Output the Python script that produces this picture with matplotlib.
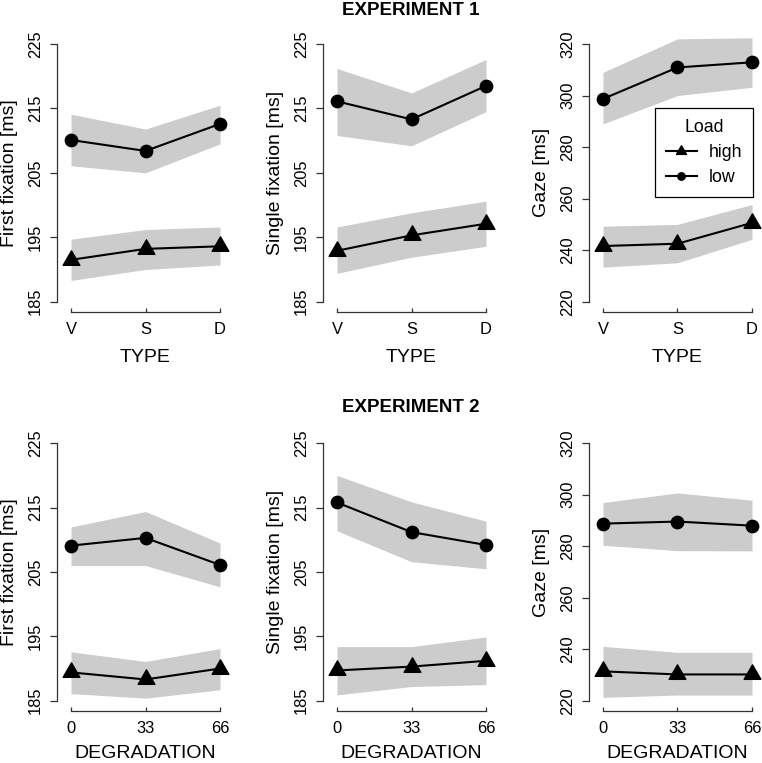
import numpy as np
import matplotlib
matplotlib.use("Agg")
import matplotlib.pyplot as plt
from matplotlib.lines import Line2D
from matplotlib.path import Path

plt.rcParams['font.family'] = ['Liberation Sans', 'DejaVu Sans']

# ---------------- data ----------------
type_labels = ["V", "S", "D"]
type_pos = [1, 2, 3]
degradation = [0, 33, 66]

# Experiment 1 (TYPE)
e1_ff_low = [210.1, 208.4, 212.6]
e1_ff_low_lo = [206.1, 205.0, 209.5]
e1_ff_low_hi = [214.1, 211.8, 215.5]
e1_ff_high = [191.5, 193.2, 193.6]
e1_ff_high_lo = [188.3, 190.0, 190.7]
e1_ff_high_hi = [194.7, 196.2, 196.6]

e1_sf_low = [216.1, 213.3, 218.5]
e1_sf_low_lo = [210.8, 209.2, 214.5]
e1_sf_low_hi = [221.2, 217.4, 222.6]
e1_sf_high = [192.9, 195.3, 197.1]
e1_sf_high_lo = [189.4, 191.9, 193.6]
e1_sf_high_hi = [196.6, 198.8, 200.6]

e1_gz_low = [298.7, 310.9, 312.9]
e1_gz_low_lo = [289.0, 300.0, 303.2]
e1_gz_low_hi = [309.0, 322.0, 322.4]
e1_gz_high = [241.6, 242.5, 250.6]
e1_gz_high_lo = [233.4, 235.1, 244.2]
e1_gz_high_hi = [249.3, 250.0, 257.7]

# Experiment 2 (DEGRADATION)
e2_ff_low = [209.1, 210.3, 206.1]
e2_ff_low_lo = [206.0, 206.0, 202.7]
e2_ff_low_hi = [212.0, 214.4, 209.5]
e2_ff_high = [189.4, 188.3, 190.0]
e2_ff_high_lo = [186.1, 185.4, 186.7]
e2_ff_high_hi = [192.6, 191.1, 193.1]

e2_sf_low = [215.8, 211.2, 209.2]
e2_sf_low_lo = [211.4, 206.6, 205.5]
e2_sf_low_hi = [220.0, 215.9, 212.9]
e2_sf_high = [189.7, 190.3, 191.2]
e2_sf_high_lo = [185.9, 187.2, 187.5]
e2_sf_high_hi = [193.4, 193.4, 194.9]

e2_gz_low = [288.8, 289.6, 288.0]
e2_gz_low_lo = [280.4, 278.3, 278.2]
e2_gz_low_hi = [297.0, 300.7, 297.9]
e2_gz_high = [231.4, 230.2, 230.2]
e2_gz_high_lo = [221.3, 222.2, 222.2]
e2_gz_high_hi = [241.1, 238.8, 238.8]

fix_ticks = [185, 195, 205, 215, 225]
gaze_ticks = [220, 240, 260, 280, 300, 320]

# ---------------- styling ----------------
W, H = 762, 763
DPI = 100
fig = plt.figure(figsize=(W / DPI, H / DPI), dpi=DPI)

BAND = "#cccccc"
LW = 1.5
TICK_FS = 11.9
LAB_FS = 14
TRI = Path([(0, 1.555), (1.347, -0.778), (-1.347, -0.778), (0, 1.555)],
           [Path.MOVETO, Path.LINETO, Path.LINETO, Path.CLOSEPOLY])
TRI_MS = 13.9
CIR_MS = 8.9

lefts = [57, 323, 589]
AW = 177
rows = [(33.7, 312.0), (433.0, 711.0)]
xlab_off = [45.0, 42.5]


def make_ax(col, row):
    top, bot = rows[row]
    l = lefts[col]
    return fig.add_axes([l / W, 1 - bot / H, AW / W, (bot - top) / H])


def panel(ax, row, x, xt, xtl, xlabel, ylabel, yticks,
          low, low_lo, low_hi, high, high_lo, high_hi):
    ax.fill_between(x, low_lo, low_hi, color=BAND, lw=0, zorder=1)
    ax.fill_between(x, high_lo, high_hi, color=BAND, lw=0, zorder=1)
    ax.plot(x, low, color="black", lw=LW, marker="o", ms=CIR_MS,
            zorder=3, clip_on=False)
    ax.plot(x, high, color="black", lw=LW, marker=TRI, ms=TRI_MS,
            zorder=3, clip_on=False)
    x0, x1 = x[0], x[-1]
    m = (x1 - x0) * 0.094
    ax.set_xlim(x0 - m, x1 + m)
    y0, y1 = yticks[0], yticks[-1]
    e = (y1 - y0) * 0.04
    ax.set_ylim(y0 - e, y1 + e)
    for s in ["top", "right"]:
        ax.spines[s].set_visible(False)
    ax.spines["left"].set_bounds(y0, y1)
    ax.spines["bottom"].set_bounds(x0, x1)
    for s in ["left", "bottom"]:
        ax.spines[s].set_linewidth(0.9)
        ax.spines[s].set_color("#333333")
    ax.set_xticks(xt)
    ax.set_xticklabels(xtl)
    ax.set_yticks(yticks)
    ax.set_yticklabels([str(v) for v in yticks])
    ax.tick_params(axis="y", direction="out", length=5.3, width=0.9,
                   labelsize=TICK_FS, pad=10.2, color="#333333")
    ax.tick_params(axis="x", direction="in", length=2.7, width=0.9,
                   labelsize=TICK_FS, pad=7.3, color="#333333")
    for t in ax.get_yticklabels():
        t.set_rotation(90)
        t.set_ha("center")
        t.set_va("center")
    top, bot = rows[row]
    ax.set_xlabel(xlabel, fontsize=LAB_FS, va="center")
    ax.xaxis.set_label_coords(0.5, -xlab_off[row] / (bot - top))
    ax.set_ylabel(ylabel, fontsize=LAB_FS, va="center")
    ax.yaxis.set_label_coords(-(57 - 9.5) / AW, 0.5)
    ax.patch.set_alpha(0)


specs_row1 = [
    ("First fixation [ms]", fix_ticks, e1_ff_low, e1_ff_low_lo, e1_ff_low_hi,
     e1_ff_high, e1_ff_high_lo, e1_ff_high_hi),
    ("Single fixation [ms]", fix_ticks, e1_sf_low, e1_sf_low_lo, e1_sf_low_hi,
     e1_sf_high, e1_sf_high_lo, e1_sf_high_hi),
    ("Gaze [ms]", gaze_ticks, e1_gz_low, e1_gz_low_lo, e1_gz_low_hi,
     e1_gz_high, e1_gz_high_lo, e1_gz_high_hi),
]
specs_row2 = [
    ("First fixation [ms]", fix_ticks, e2_ff_low, e2_ff_low_lo, e2_ff_low_hi,
     e2_ff_high, e2_ff_high_lo, e2_ff_high_hi),
    ("Single fixation [ms]", fix_ticks, e2_sf_low, e2_sf_low_lo, e2_sf_low_hi,
     e2_sf_high, e2_sf_high_lo, e2_sf_high_hi),
    ("Gaze [ms]", gaze_ticks, e2_gz_low, e2_gz_low_lo, e2_gz_low_hi,
     e2_gz_high, e2_gz_high_lo, e2_gz_high_hi),
]

axes = []
for c, sp in enumerate(specs_row1):
    ax = make_ax(c, 0)
    panel(ax, 0, type_pos, type_pos, type_labels, "TYPE", sp[0], sp[1], *sp[2:])
    axes.append(ax)
for c, sp in enumerate(specs_row2):
    ax = make_ax(c, 1)
    panel(ax, 1, degradation, degradation, [str(d) for d in degradation],
          "DEGRADATION", sp[0], sp[1], *sp[2:])
    axes.append(ax)

fig.text(410.8 / W, 1 - 10.5 / H, "EXPERIMENT 1", ha="center", va="center",
         fontsize=13.5, fontweight="bold")
fig.text(410.8 / W, 1 - 408 / H, "EXPERIMENT 2", ha="center", va="center",
         fontsize=13.5, fontweight="bold")

handles = [
    Line2D([], [], color="black", lw=LW, marker=TRI, ms=TRI_MS * 0.6),
    Line2D([], [], color="black", lw=LW, marker="o", ms=CIR_MS * 0.6),
]
leg = axes[2].legend(handles, ["high", "low"], title="Load",
                     loc="upper left",
                     bbox_to_anchor=(655 / W, 1 - 108.3 / H),
                     bbox_transform=fig.transFigure,
                     fontsize=12.8, title_fontsize=12.8, frameon=True,
                     fancybox=False, shadow=False, borderaxespad=0,
                     handlelength=1.75, handletextpad=0.7,
                     borderpad=0.6, labelspacing=0.45)
leg.get_frame().set_edgecolor("black")
leg.get_frame().set_linewidth(0.9)
leg.get_frame().set_alpha(None)
leg.set_zorder(10)

fig.savefig("out.png", dpi=DPI)
